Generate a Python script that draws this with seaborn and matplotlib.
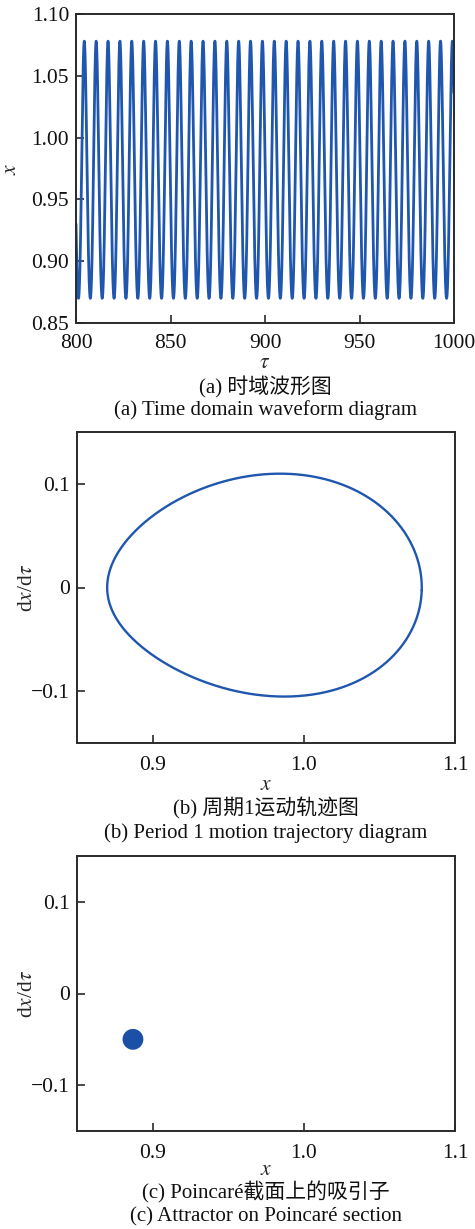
import numpy as np
import pandas as pd
import matplotlib
matplotlib.use("Agg")
import matplotlib.pyplot as plt
import seaborn as sns

# Periodic response x(tau) = c + sum_k [a_k*cos(k*th) + b_k*sin(k*th)], th = tau - tau_peak
mean_level = 0.967
cos_coeffs = [0.104, 0.007]        # a1, a2
sin_coeffs = [0.0, -0.0013]        # b1, b2
tau_peak = 804.4                   # time of a displacement maximum
tau_window = [800.0, 1000.0]

# Poincaré section point
poincare_x = [0.887]
poincare_v = [-0.050]

# Tick labels
wave_xticks = [800, 850, 900, 950, 1000]
wave_yticks = [0.85, 0.90, 0.95, 1.00, 1.05, 1.10]
phase_xticks = [0.9, 1.0, 1.1]
phase_yticks = [-0.1, 0.0, 0.1]
phase_yticklabels = ["\u22120.1", "0", "0.1"]

captions = [
    ("(a) 时域波形图", "(a) Time domain waveform diagram"),
    ("(b) 周期1运动轨迹图", "(b) Period 1 motion trajectory diagram"),
    ("(c) Poincaré截面上的吸引子", "(c) Attractor on Poincaré section"),
]

sns.set_theme(style="ticks")
plt.rcParams["font.family"] = ["Liberation Serif", "Noto Sans CJK SC"]
plt.rcParams["mathtext.fontset"] = "stix"
plt.rcParams["axes.unicode_minus"] = True

BLUE = "#1f56ae"
INK = "#2a2a2a"
FS = 15.5


def response(tau):
    th = tau - tau_peak
    x = np.full_like(th, mean_level)
    v = np.zeros_like(th)
    for k, (a, b) in enumerate(zip(cos_coeffs, sin_coeffs), start=1):
        x += a * np.cos(k * th) + b * np.sin(k * th)
        v += -k * a * np.sin(k * th) + k * b * np.cos(k * th)
    return x, v


tau = np.linspace(tau_window[0], tau_window[1], 8001)
x_t, v_t = response(tau)
wave = pd.DataFrame({"tau": tau, "x": x_t})

tau_cyc = np.linspace(0, 2 * np.pi, 721) + tau_peak
x_c, v_c = response(tau_cyc)
orbit = pd.DataFrame({"x": x_c, "v": v_c})
section = pd.DataFrame({"x": poincare_x, "v": poincare_v})

W, H = 475, 1229
fig = plt.figure(figsize=(W / 100, H / 100), dpi=100)


def axes_box(left, top, right, bottom):
    return fig.add_axes([left / W, (H - bottom) / H, (right - left) / W, (bottom - top) / H])


def style(ax):
    for s in ax.spines.values():
        s.set_color(INK)
        s.set_linewidth(1.4)
    ax.tick_params(direction="in", length=6, width=1.2, colors=INK,
                   labelcolor="#111111", labelsize=FS, top=False, right=False, pad=5)


def caption(ax_center_x, y_px, text):
    fig.text(ax_center_x / W, 1 - y_px / H, text, ha="center", va="center",
             fontsize=15, color="#111111")


# (a) time-domain waveform
ax1 = axes_box(76, 14, 454, 323)
sns.lineplot(data=wave, x="tau", y="x", ax=ax1, color=BLUE, linewidth=2.0,
             estimator=None, sort=False)
ax1.set_xlim(*tau_window)
ax1.set_ylim(0.85, 1.10)
ax1.set_xticks(wave_xticks)
ax1.set_yticks(wave_yticks)
ax1.set_yticklabels([f"{t:.2f}" for t in wave_yticks])
ax1.set_xlabel(r"$\tau$", fontsize=FS)
ax1.set_ylabel(r"$x$", fontsize=FS)
style(ax1)
ax1.tick_params(axis="x", pad=8)
ax1.xaxis.set_label_coords(0.5, -31 / 309, transform=ax1.transAxes)
ax1.yaxis.set_label_coords(-55 / 378, 0.5, transform=ax1.transAxes)

# (b) phase trajectory
ax2 = axes_box(77, 432, 455, 743)
sns.lineplot(data=orbit, x="x", y="v", ax=ax2, color=BLUE, linewidth=1.7,
             estimator=None, sort=False)

# (c) Poincaré section
ax3 = axes_box(77, 856, 455, 1131)
sns.scatterplot(data=section, x="x", y="v", ax=ax3, color="#1a50a6", s=225,
                edgecolor="none")

for ax, h, xlab_off in ((ax2, 311, 33), (ax3, 275, 30)):
    ax.set_xlim(0.85, 1.1)
    ax.set_ylim(-0.15, 0.15)
    ax.set_xticks(phase_xticks)
    ax.set_xticklabels([f"{t:.1f}" for t in phase_xticks])
    ax.set_yticks(phase_yticks)
    ax.set_yticklabels(phase_yticklabels)
    ax.set_xlabel(r"$x$", fontsize=FS)
    ax.set_ylabel(r"d$x$/d$\tau$", fontsize=FS)
    style(ax)
    ax.tick_params(axis="x", pad=9)
    ax.xaxis.set_label_coords(0.5, -xlab_off / h, transform=ax.transAxes)
    ax.yaxis.set_label_coords(-40 / 378, 0.5, transform=ax.transAxes)

caption(265, 387, captions[0][0])
caption(265, 410, captions[0][1])
caption(266, 808, captions[1][0])
caption(266, 833, captions[1][1])
caption(266, 1192, captions[2][0])
caption(266, 1217, captions[2][1])

fig.savefig("out.png", dpi=100)
